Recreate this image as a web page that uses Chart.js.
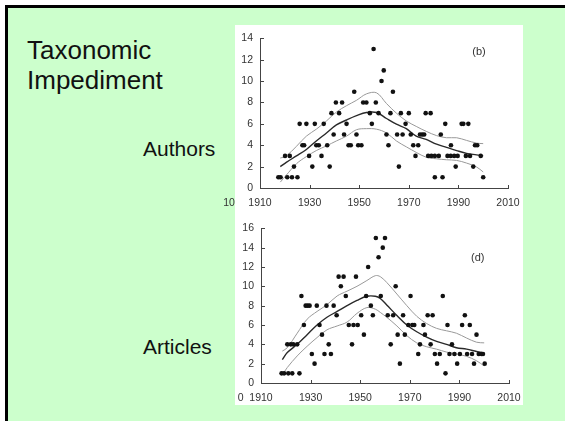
<!DOCTYPE html>
<html>
<head>
<meta charset="utf-8">
<script src="https://cdn.jsdelivr.net/npm/chart.js@4.4.0/dist/chart.umd.min.js"></script>
<style>
  body { margin: 0; width: 565px; height: 421px; overflow: hidden; position: relative; background: #fff; font-family: "Liberation Sans", Arial, sans-serif; }
  #slide { position: absolute; left: 5px; top: 5px; width: 620px; height: 460px; border: 3px solid #000; background: #ccffcc; }
  #panel { position: absolute; left: 235px; top: 25px; width: 288px; height: 380px; background: #fff; }
  .lbl { position: absolute; color: #111; white-space: nowrap; }
  canvas { position: absolute; left: 220px; }
</style>
</head>
<body>
<div id="slide"></div>
<div id="panel"></div>
<div class="lbl" style="left:27px;top:35px;font-size:26px;line-height:30px">Taxonomic<br>Impediment</div>
<div class="lbl" style="left:143px;top:137px;font-size:21px;line-height:24px">Authors</div>
<div class="lbl" style="left:143px;top:335px;font-size:21px;line-height:24px">Articles</div>
<canvas id="authors" width="310" height="190" style="top:25px"></canvas>
<canvas id="articles" width="310" height="190" style="top:215px"></canvas>
<script>
// x axis ticks (years)
const yearTicks = [1910, 1930, 1950, 1970, 1990, 2010];

// (b) authors per year
const authorYears = [1917.4, 1918.3, 1920.1, 1921.0, 1922.0, 1922.9, 1923.7, 1925.1, 1926.0, 1927.1,
  1927.8, 1928.7, 1929.8, 1931.1, 1932.1, 1932.7, 1933.7, 1934.8, 1935.7, 1937.1,
  1938.1, 1938.8, 1939.7, 1940.6, 1941.9, 1943.1, 1943.9, 1944.9, 1945.7, 1946.6,
  1948.0, 1948.9, 1949.6, 1950.9, 1951.6, 1952.9, 1954.3, 1955.1, 1955.8, 1956.7,
  1957.8, 1959.0, 1959.9, 1961.0, 1961.8, 1962.6, 1963.6, 1965.3, 1966.0, 1966.8,
  1967.5, 1968.7, 1970.0, 1970.8, 1971.8, 1972.7, 1973.8, 1974.5, 1975.4, 1976.2,
  1976.8, 1977.8, 1978.8, 1979.1, 1980.5, 1982.1, 1980.5, 1982.9, 1983.6, 1984.7,
  1985.6, 1986.9, 1987.0, 1988.3, 1988.9, 1989.7, 1991.3, 1992.0, 1993.0, 1994.0,
  1994.7, 1996.0, 1996.7, 1997.6, 1999.0, 2000.0];
const authorCounts = [1, 1, 3, 1, 3, 1, 2, 1, 6, 4,
  4, 6, 3, 2, 6, 4, 4, 3, 6, 4,
  2, 7, 5, 8, 7, 8, 5, 6, 4, 4,
  9, 5, 4, 4, 8, 8, 7, 6, 13, 8,
  7, 10, 11, 5, 4, 7, 9, 5, 2, 7,
  5, 6, 7, 5, 4, 3, 4, 5, 5, 5,
  7, 3, 7, 3, 3, 3, 1, 5, 1, 6,
  3, 3, 4, 3, 2, 3, 6, 6, 3, 6,
  3, 2, 4, 4, 3, 1];
const authorLineYears = [1918.2, 1920.6, 1924.7, 1928.7, 1932.7, 1936.8, 1940.8, 1944.9, 1948.9, 1952.9,
  1957.0, 1961.0, 1965.0, 1969.0, 1973.0, 1977.0, 1981.2, 1985.2, 1989.3, 1993.3, 1997.3, 2000.0];
const authorMean = [2.0, 2.4, 3.0, 3.6, 4.4, 5.15, 5.9, 6.36, 6.76, 7.06,
  7.06, 6.5, 5.97, 5.55, 4.85, 4.55, 4.1, 3.8, 3.5, 3.24, 3.1, 3.0];
const authorUpper = [2.8, 3.0, 3.9, 4.85, 5.5, 6.27, 7.1, 7.7, 8.2, 8.8,
  8.9, 7.9, 7.0, 6.27, 5.76, 5.3, 4.9, 4.7, 4.7, 4.45, 4.2, 4.15];
const authorLower = [0.55, 1.2, 2.27, 2.94, 3.5, 3.94, 4.4, 4.85, 5.45, 5.55,
  5.5, 5.15, 4.4, 3.85, 3.33, 2.88, 2.73, 2.64, 2.58, 2.33, 1.97, 1.5];
const authorTicks = [0, 2, 4, 6, 8, 10, 12, 14];

// (d) articles per year
const articleYears = [1918.3, 1919.3, 1921.0, 1922.6, 1925.5, 1920.6, 1922.0, 1923.0, 1924.6, 1926.3,
  1927.3, 1928.0, 1928.8, 1929.6, 1930.5, 1931.6, 1932.5, 1933.6, 1934.6, 1935.6,
  1936.4, 1937.3, 1938.2, 1939.3, 1940.5, 1941.3, 1942.2, 1943.3, 1944.2, 1945.4,
  1946.7, 1947.3, 1948.3, 1949.0, 1950.4, 1951.5, 1952.4, 1953.2, 1954.3, 1955.1,
  1956.3, 1957.4, 1958.3, 1959.1, 1960.0, 1961.1, 1962.3, 1963.3, 1964.3, 1965.1,
  1966.0, 1967.3, 1968.0, 1969.4, 1970.3, 1971.0, 1971.8, 1973.4, 1974.1, 1975.5,
  1976.1, 1977.2, 1978.4, 1979.2, 1980.1, 1981.0, 1982.1, 1983.3, 1984.4, 1985.2,
  1986.0, 1987.0, 1988.0, 1989.1, 1990.2, 1991.1, 1992.2, 1993.1, 1994.2, 1995.1,
  1995.9, 1996.9, 1997.8, 1998.9, 1999.5, 2000.2];
const articleCounts = [1, 1, 1, 1, 1, 4, 4, 4, 4, 9,
  6, 8, 8, 8, 3, 2, 8, 6, 5, 3,
  8, 4, 3, 8, 7, 11, 10, 11, 9, 6,
  4, 6, 11, 6, 7, 5, 9, 12, 8, 7,
  15, 13, 9, 14, 15, 7, 4, 7, 10, 5,
  2, 7, 5, 6, 9, 6, 6, 3, 4, 6,
  5, 7, 4, 7, 3, 2, 3, 9, 1, 6,
  3, 4, 3, 2, 3, 6, 7, 3, 6, 3,
  2, 5, 3, 3, 3, 2];
const articleLineYears = [1918.6, 1920.6, 1924.6, 1928.6, 1932.6, 1936.6, 1940.7, 1944.7, 1948.7, 1952.7,
  1956.1, 1958.1, 1960.7, 1964.8, 1968.8, 1972.8, 1976.8, 1980.8, 1984.8, 1988.8, 1992.9, 1996.9, 2000.0];
const articleMean = [2.42, 3.15, 4.0, 5.0, 6.0, 6.8, 7.4, 8.0, 8.54, 8.97,
  8.97, 8.74, 8.07, 6.98, 6.0, 5.3, 4.75, 4.3, 4.0, 3.65, 3.5, 3.26, 3.1];
const articleUpper = [3.3, 3.65, 5.15, 6.6, 7.4, 8.1, 9.0, 9.5, 10.0, 10.6,
  11.1, 11.0, 10.4, 9.2, 8.0, 6.9, 6.15, 5.65, 5.4, 5.15, 4.65, 4.22, 4.15];
const articleLower = [0.83, 1.6, 2.8, 3.8, 4.7, 5.5, 5.9, 6.3, 7.2, 7.8,
  7.64, 7.3, 6.8, 5.9, 4.9, 4.15, 3.75, 3.5, 3.2, 3.0, 2.76, 2.3, 1.76];
const articleTicks = [0, 2, 4, 6, 8, 10, 12, 14, 16];

const zip = (xs, ys) => xs.map((x, i) => ({ x: x, y: ys[i] }));
const tickFont = { family: '"Liberation Sans", Arial, sans-serif', size: 10.5 };

// inward tick marks, panel tag and the clipped label on the left
const extras = {
  id: 'extras',
  afterDraw(chart, args, opts) {
    const ctx = chart.ctx;
    const xs = chart.scales.x, ys = chart.scales.y;
    const area = chart.chartArea;
    ctx.save();
    ctx.strokeStyle = '#444';
    ctx.lineWidth = 1;
    ctx.beginPath();
    xs.ticks.forEach(t => {
      if (t.value === xs.min) return;
      const px = Math.round(xs.getPixelForValue(t.value)) + 0.5;
      ctx.moveTo(px, area.bottom);
      ctx.lineTo(px, area.bottom - 3);
    });
    ys.ticks.forEach(t => {
      const py = Math.round(ys.getPixelForValue(t.value)) + 0.5;
      ctx.moveTo(area.left, py);
      ctx.lineTo(area.left + 4, py);
    });
    ctx.stroke();
    ctx.fillStyle = '#333';
    ctx.font = '11px "Liberation Sans", Arial, sans-serif';
    ctx.textAlign = 'center';
    ctx.textBaseline = 'middle';
    ctx.fillText(opts.tag, xs.getPixelForValue(opts.tagAt[0]), ys.getPixelForValue(opts.tagAt[1]));
    ctx.font = '10.5px "Liberation Sans", Arial, sans-serif';
    ctx.fillText(opts.stub, xs.getPixelForValue(opts.stubAt), area.bottom + opts.labelGap);
    ctx.restore();
  }
};

function makeChart(id, cfg) {
  return new Chart(document.getElementById(id), {
    type: 'scatter',
    data: {
      datasets: [
        { data: zip(cfg.years, cfg.counts), pointRadius: 2.3, pointBackgroundColor: '#111', pointBorderWidth: 0 },
        { data: zip(cfg.lineYears, cfg.mean), showLine: true, pointRadius: 0, borderColor: '#2a2a2a', borderWidth: 1.4, tension: 0.35, order: 1 },
        { data: zip(cfg.lineYears, cfg.upper), showLine: true, pointRadius: 0, borderColor: '#999', borderWidth: 1, tension: 0.35, order: 2 },
        { data: zip(cfg.lineYears, cfg.lower), showLine: true, pointRadius: 0, borderColor: '#999', borderWidth: 1, tension: 0.35, order: 2 }
      ]
    },
    options: {
      responsive: false,
      animation: false,
      devicePixelRatio: 1,
      layout: { padding: { top: cfg.padTop, right: cfg.padRight, left: 0, bottom: 0 } },
      plugins: {
        legend: { display: false },
        tooltip: { enabled: false },
        extras: { tag: cfg.tag, tagAt: cfg.tagAt, stub: cfg.stub, stubAt: cfg.stubAt, labelGap: 15 }
      },
      scales: {
        x: {
          type: 'linear', min: 1910, max: 2010,
          afterBuildTicks: s => { s.ticks = yearTicks.map(v => ({ value: v })); },
          afterFit: s => { s.height = cfg.xHeight; },
          grid: { display: true, drawOnChartArea: false, drawTicks: false, color: 'transparent' },
          border: { display: true, color: '#444', width: 1 },
          ticks: { color: '#333', font: tickFont, padding: 9, maxRotation: 0, autoSkip: false, callback: v => String(v) }
        },
        y: {
          type: 'linear', min: 0, max: cfg.yTicks[cfg.yTicks.length - 1],
          afterBuildTicks: s => { s.ticks = cfg.yTicks.map(v => ({ value: v })); },
          afterFit: s => { s.width = cfg.yWidth; },
          grid: { display: true, drawOnChartArea: false, drawTicks: false, color: 'transparent' },
          border: { display: true, color: '#444', width: 1 },
          ticks: { color: '#333', font: tickFont, padding: 7, callback: v => String(v) }
        }
      }
    },
    plugins: [extras]
  });
}

makeChart('authors', {
  years: authorYears, counts: authorCounts, lineYears: authorLineYears,
  mean: authorMean, upper: authorUpper, lower: authorLower, yTicks: authorTicks,
  padTop: 9, padRight: 22, xHeight: 27, yWidth: 40,
  tag: '(b)', tagAt: [1998.3, 12.7], stub: '10', stubAt: 1897.5
});

makeChart('articles', {
  years: articleYears, counts: articleCounts, lineYears: articleLineYears,
  mean: articleMean, upper: articleUpper, lower: articleLower, yTicks: articleTicks,
  padTop: 8, padRight: 21, xHeight: 22, yWidth: 41,
  tag: '(d)', tagAt: [1997.4, 12.9], stub: '0', stubAt: 1901.8
});
</script>
</body>
</html>
